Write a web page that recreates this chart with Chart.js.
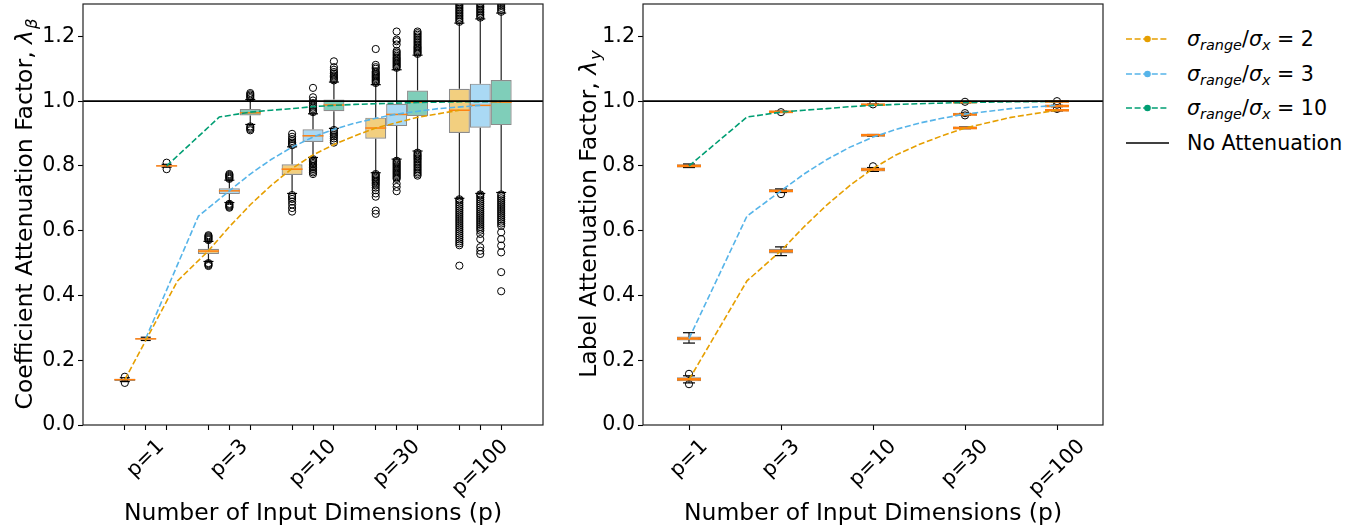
<!DOCTYPE html>
<html>
<head>
<meta charset="utf-8">
<title>Attenuation factors</title>
<script src="https://cdn.jsdelivr.net/npm/chart.js@4.4.1/dist/chart.umd.min.js"></script>
<style>
  html, body { margin: 0; padding: 0; background: #fff; }
  body { width: 1364px; height: 529px; position: relative; overflow: hidden; font-family: 'DejaVu Sans', sans-serif; }
  canvas { position: absolute; top: 0; }
  #coefCanvas { left: 0; }
  #labelCanvas { left: 560px; }
  #legend { position: absolute; left: 1126px; top: 22px; font-size: 20.6px; color: #000; }
  .row { height: 34.5px; display: flex; align-items: center; white-space: nowrap; }
  .row svg { margin-right: 18px; flex: none; }
  .row sub { font-size: 70%; vertical-align: -0.3em; line-height: 0; }
</style>
</head>
<body>
<canvas id="coefCanvas" width="560" height="529"></canvas>
<canvas id="labelCanvas" width="560" height="529"></canvas>
<div id="legend"></div>
<script>
// ---- data ----
const groupLabels = ['p=1', 'p=3', 'p=10', 'p=30', 'p=100'];
const seriesRatios = [2, 3, 10];
const seriesColors = ['#E69F00', '#56B4E9', '#009E73'];
const noAttenuation = 1.0;

// theory curves; x is on the group axis (1 = p=1, 2 = p=3, 3 = p=10, 4 = p=30, 5 = p=100)
const curveX   = [1, 1.63, 2, 2.25, 2.5, 2.75, 3, 3.25, 3.5, 3.75, 4, 4.5, 5];
const curveR2  = [0.140, 0.445, 0.538, 0.612, 0.680, 0.740, 0.792, 0.834, 0.866, 0.893, 0.917, 0.950, 0.972];
const curveR3  = [0.267, 0.645, 0.723, 0.775, 0.820, 0.858, 0.889, 0.913, 0.932, 0.947, 0.960, 0.977, 0.987];
const curveR10 = [0.800, 0.951, 0.966, 0.972, 0.977, 0.983, 0.987, 0.990, 0.992, 0.994, 0.996, 0.998, 0.999];

// boxes per p: [whisker low, q1, median, q3, whisker high]
const coefBoxR2 = [
  [0.134, 0.136, 0.140, 0.143, 0.146],
  [0.505, 0.528, 0.537, 0.544, 0.567],
  [0.715, 0.772, 0.790, 0.805, 0.859],
  [0.779, 0.884, 0.917, 0.949, 1.051],
  [0.700, 0.902, 0.972, 1.038, 1.241]
];
const coefBoxR3 = [
  [0.261, 0.264, 0.266, 0.268, 0.271],
  [0.687, 0.713, 0.723, 0.731, 0.756],
  [0.826, 0.874, 0.893, 0.913, 0.961],
  [0.821, 0.923, 0.959, 0.992, 1.097],
  [0.715, 0.918, 0.987, 1.054, 1.254]
];
const coefBoxR10 = [
  [0.796, 0.799, 0.800, 0.802, 0.805],
  [0.928, 0.956, 0.964, 0.976, 1.005],
  [0.916, 0.969, 0.988, 1.005, 1.059],
  [0.846, 0.954, 0.997, 1.033, 1.142],
  [0.718, 0.926, 0.997, 1.065, 1.272]
];

const coefOutR2 = [
  [0.130, 0.149],
  [0.491, 0.494, 0.497, 0.500, 0.571, 0.574, 0.577, 0.580, 0.583, 0.586],
  [0.659, 0.670, 0.681, 0.690, 0.698, 0.704, 0.710, 0.864, 0.868, 0.872, 0.877, 0.883, 0.890, 0.899],
  [0.652, 0.662, 0.705, 0.715, 0.725, 0.733, 0.740, 0.745, 0.750, 0.755, 0.759, 0.763, 0.767, 0.771, 0.775,
   1.056, 1.060, 1.064, 1.068, 1.072, 1.076, 1.080, 1.084, 1.088, 1.092, 1.100, 1.105, 1.112, 1.161],
  [0.492, 0.555, 0.561, 0.567, 0.573, 0.579, 0.585, 0.591, 0.597, 0.603, 0.609, 0.615, 0.621, 0.627, 0.633,
   0.639, 0.645, 0.651, 0.657, 0.663, 0.669, 0.675, 0.681, 0.687, 0.693, 0.697,
   1.245, 1.250, 1.255, 1.260, 1.265, 1.270, 1.275, 1.280, 1.285, 1.290, 1.295, 1.300, 1.305]
];
const coefOutR3 = [
  [],
  [0.671, 0.674, 0.677, 0.680, 0.683, 0.760, 0.763, 0.766, 0.769, 0.772, 0.775],
  [0.775, 0.780, 0.785, 0.790, 0.795, 0.800, 0.805, 0.809, 0.813, 0.817, 0.821,
   0.966, 0.970, 0.975, 0.980, 0.986, 0.994, 1.002, 1.012, 1.041],
  [0.722, 0.735, 0.745, 0.760, 0.764, 0.768, 0.772, 0.776, 0.780, 0.784, 0.788, 0.792, 0.796, 0.800, 0.804,
   0.808, 0.812, 0.816, 1.103, 1.107, 1.111, 1.115, 1.119, 1.123, 1.127, 1.131, 1.135, 1.140, 1.145, 1.150,
   1.155, 1.175, 1.185, 1.190, 1.215],
  [0.528, 0.538, 0.549, 0.574, 0.590, 0.600, 0.606, 0.612, 0.618, 0.624, 0.630, 0.636, 0.642, 0.648, 0.654,
   0.660, 0.666, 0.672, 0.678, 0.684, 0.690, 0.696, 0.702, 0.708, 0.712,
   1.258, 1.263, 1.268, 1.273, 1.278, 1.283, 1.288, 1.293, 1.298, 1.303]
];
const coefOutR10 = [
  [0.790, 0.810],
  [0.910, 0.914, 0.918, 0.922, 1.009, 1.013, 1.017, 1.021, 1.025],
  [0.872, 0.878, 0.885, 0.891, 0.896, 0.901, 0.906, 0.911,
   1.064, 1.068, 1.072, 1.076, 1.080, 1.085, 1.090, 1.097, 1.105, 1.123],
  [0.770, 0.775, 0.780, 0.785, 0.790, 0.795, 0.800, 0.805, 0.810, 0.815, 0.820, 0.824, 0.828, 0.832, 0.836,
   0.841, 1.146, 1.150, 1.154, 1.158, 1.162, 1.166, 1.170, 1.175, 1.180, 1.185, 1.190, 1.195, 1.200, 1.205,
   1.210, 1.215],
  [0.413, 0.472, 0.533, 0.554, 0.574, 0.595, 0.615, 0.622, 0.628, 0.634, 0.640, 0.646, 0.652, 0.658, 0.664,
   0.670, 0.676, 0.682, 0.688, 0.694, 0.700, 0.706, 0.712,
   1.276, 1.282, 1.288, 1.294, 1.300, 1.306]
];

const labelBoxR2 = [
  [0.130, 0.138, 0.141, 0.144, 0.152],
  [0.523, 0.533, 0.537, 0.541, 0.550],
  [0.783, 0.786, 0.789, 0.792, 0.795],
  [0.915, 0.916, 0.917, 0.919, 0.920],
  [0.970, 0.971, 0.972, 0.973, 0.974]
];
const labelBoxR3 = [
  [0.253, 0.264, 0.267, 0.270, 0.285],
  [0.718, 0.721, 0.723, 0.726, 0.729],
  [0.892, 0.893, 0.895, 0.896, 0.897],
  [0.957, 0.958, 0.959, 0.961, 0.962],
  [0.983, 0.984, 0.985, 0.986, 0.987]
];
const labelBoxR10 = [
  [0.795, 0.798, 0.800, 0.802, 0.806],
  [0.965, 0.966, 0.967, 0.968, 0.969],
  [0.987, 0.988, 0.989, 0.990, 0.991],
  [0.995, 0.996, 0.997, 0.998, 0.999],
  [0.998, 0.998, 0.999, 1.000, 1.000]
];
const labelOutR2  = [[0.126, 0.158], [], [0.799], [], [0.976]];
const labelOutR3  = [[], [0.713], [], [0.956, 0.963], [0.989]];
const labelOutR10 = [[], [0.966], [0.990], [0.998], [1.000]];

// ---- styling ----
Chart.defaults.font.family = "'DejaVu Sans', sans-serif";
Chart.defaults.color = '#000';
const TICK_FONT = 20.6;
const TITLE_FONT = 23.5;
const MEDIAN_COLOR = '#ff7f0e';

function boxSeries(boxes, outliers, color, shift, look) {
  const at = (i, v) => ({ x: i + 1 + shift, y: v });
  return [
    { // boxes q1..q3
      type: 'bar', order: 6, grouped: false,
      barThickness: look.boxW, inflateAmount: look.inflate,
      data: boxes.map((b, i) => at(i, [b[1], b[3]])),
      backgroundColor: color + '80', borderColor: 'rgba(0,0,0,0.45)',
      borderWidth: 1.2, borderSkipped: false
    },
    { // whiskers
      type: 'line', order: 5, spanGaps: false,
      data: boxes.flatMap((b, i) => [at(i, b[0]), at(i, b[1]), at(i, null), at(i, b[3]), at(i, b[4]), at(i, null)]),
      borderColor: '#222', borderWidth: 1.2, pointRadius: 0
    },
    { // caps
      type: 'scatter', order: 3,
      data: boxes.flatMap((b, i) => [at(i, b[0]), at(i, b[4])]),
      pointStyle: 'line', pointRadius: look.capW / 2,
      pointBorderColor: '#000', pointBorderWidth: 1.2
    },
    { // medians
      type: 'scatter', order: 2,
      data: boxes.map((b, i) => at(i, b[2])),
      pointStyle: 'line', pointRadius: look.boxW / 2 + look.inflate,
      pointBorderColor: MEDIAN_COLOR, pointBorderWidth: look.medW
    },
    { // fliers
      type: 'scatter', order: 4, clip: 0,
      data: outliers.flatMap((o, i) => o.map(v => at(i, v))),
      pointStyle: 'circle', pointRadius: 3.6,
      pointBackgroundColor: 'rgba(0,0,0,0)', pointBorderColor: '#000', pointBorderWidth: 1
    }
  ];
}

function curveSet(values, color, shift) {
  return {
    type: 'line', order: 1,
    data: curveX.map((x, i) => ({ x: x + shift, y: values[i] })),
    borderColor: color, borderWidth: 1.6, borderDash: [6, 2.6],
    pointRadius: 0, fill: false, tension: 0
  };
}

// reference line, frame, rotated tick labels and the y title with its subscript
function decor(cfg) {
  return {
    id: 'decor',
    afterDatasetsDraw(chart) {
      const { ctx, chartArea: a, scales: { y } } = chart;
      const yv = y.getPixelForValue(noAttenuation);
      ctx.save();
      ctx.strokeStyle = '#000';
      ctx.lineWidth = 1.6;
      ctx.beginPath();
      ctx.moveTo(a.left, yv);
      ctx.lineTo(a.right, yv);
      ctx.stroke();
      ctx.restore();
    },
    afterDraw(chart) {
      const { ctx, chartArea: a, scales: { x } } = chart;
      ctx.save();
      ctx.strokeStyle = '#222';
      ctx.lineWidth = 1.2;
      ctx.strokeRect(a.left, a.top, a.right - a.left, a.bottom - a.top);

      ctx.fillStyle = '#000';
      ctx.font = TICK_FONT + "px 'DejaVu Sans'";
      ctx.textAlign = 'center';
      ctx.textBaseline = 'middle';
      groupLabels.forEach((t, i) => {
        const px = x.getPixelForValue(i + 1 + cfg.labelShift);
        const w = ctx.measureText(t).width;
        const cy = a.bottom + 10 + (w + 24) * Math.SQRT1_2 / 2;
        ctx.save();
        ctx.translate(px, cy);
        ctx.rotate(-Math.PI / 4);
        ctx.fillText(t, 0, 0);
        ctx.restore();
      });

      const fMain = TITLE_FONT + "px 'DejaVu Sans'";
      const fIt = 'italic ' + TITLE_FONT + "px 'DejaVu Sans'";
      const fSub = 'italic ' + (TITLE_FONT * 0.7) + "px 'DejaVu Sans'";
      ctx.textAlign = 'left';
      ctx.textBaseline = 'alphabetic';
      ctx.font = fMain; const w1 = ctx.measureText(cfg.yTitle).width;
      ctx.font = fIt;   const w2 = ctx.measureText('λ').width;
      ctx.font = fSub;  const w3 = ctx.measureText(cfg.ySub).width;
      const x0 = -(w1 + w2 + w3) / 2;
      ctx.translate(cfg.titleX, (a.top + a.bottom) / 2);
      ctx.rotate(-Math.PI / 2);
      ctx.font = fMain; ctx.fillText(cfg.yTitle, x0, 0);
      ctx.font = fIt;   ctx.fillText('λ', x0 + w1, 0);
      ctx.font = fSub;  ctx.fillText(cfg.ySub, x0 + w1 + w2 + 1, 5);
      ctx.restore();
    }
  };
}

function makePanel(canvasId, cfg) {
  return new Chart(document.getElementById(canvasId), {
    type: 'scatter',
    data: { datasets: cfg.datasets },
    options: {
      responsive: false,
      devicePixelRatio: 1,
      animation: false,
      events: [],
      layout: { autoPadding: false, padding: { left: 0, right: 17, top: 4, bottom: 0 } },
      plugins: { legend: { display: false }, tooltip: { enabled: false } },
      scales: {
        x: {
          type: 'linear', min: cfg.xMin, max: cfg.xMax, offset: false,
          afterBuildTicks: s => { s.ticks = cfg.tickPos.map(v => ({ value: v })); },
          afterFit: s => { s.height = 104; s.paddingLeft = 0; s.paddingRight = 0; },
          ticks: { display: false },
          grid: { display: true, offset: false, drawOnChartArea: false, drawTicks: true, tickLength: 5, tickColor: '#000', tickWidth: 1.1 },
          border: { display: false },
          title: {
            display: true, text: 'Number of Input Dimensions (p)',
            font: { size: TITLE_FONT }, color: '#000', padding: { top: 0, bottom: 1 }
          }
        },
        y: {
          type: 'linear', min: 0, max: 1.3,
          afterFit: s => { s.width = 83; s.paddingTop = 0; s.paddingBottom = 0; },
          ticks: {
            stepSize: 0.2, includeBounds: false, padding: 3,
            callback: v => v.toFixed(1), font: { size: TICK_FONT, lineHeight: 0.05 }, color: '#000'
          },
          grid: { display: true, drawOnChartArea: false, tickLength: 5, tickColor: '#000', tickWidth: 1.1 },
          border: { display: false }
        }
      }
    },
    plugins: [decor(cfg)]
  });
}

// left panel: three boxes per p, 0.25 group units apart
const coefLook = { boxW: 21, inflate: 0, capW: 10, medW: 1.5 };
makePanel('coefCanvas', {
  xMin: 0.5, xMax: 6,
  tickPos: groupLabels.flatMap((l, i) => [0, 0.25, 0.5].map(d => i + 1 + d)),
  labelShift: 0.25,
  yTitle: 'Coefficient Attenuation Factor, ', ySub: 'β', titleX: 32,
  datasets: [
    curveSet(curveR2, seriesColors[0], 0),
    curveSet(curveR3, seriesColors[1], 0.25),
    curveSet(curveR10, seriesColors[2], 0.5),
    ...boxSeries(coefBoxR2, coefOutR2, seriesColors[0], 0, coefLook),
    ...boxSeries(coefBoxR3, coefOutR3, seriesColors[1], 0.25, coefLook),
    ...boxSeries(coefBoxR10, coefOutR10, seriesColors[2], 0.5, coefLook)
  ]
});

// right panel: boxes for all ratios share one position per p
const labelLook = { boxW: 22, inflate: 1, capW: 12, medW: 2.5 };
makePanel('labelCanvas', {
  xMin: 0.5, xMax: 5.5,
  tickPos: groupLabels.map((l, i) => i + 1),
  labelShift: 0,
  yTitle: 'Label Attenuation Factor, ', ySub: 'y', titleX: 36,
  datasets: [
    curveSet(curveR2, seriesColors[0], 0),
    curveSet(curveR3, seriesColors[1], 0),
    curveSet(curveR10, seriesColors[2], 0),
    ...boxSeries(labelBoxR2, labelOutR2, seriesColors[0], 0, labelLook),
    ...boxSeries(labelBoxR3, labelOutR3, seriesColors[1], 0, labelLook),
    ...boxSeries(labelBoxR10, labelOutR10, seriesColors[2], 0, labelLook)
  ]
});

// legend (html so the subscripts stay real text)
const legendRows = seriesRatios.map((r, s) => ({
  color: seriesColors[s], dashed: true,
  html: '<i>σ</i><sub><i>range</i></sub>/<i>σ</i><sub><i>x</i></sub> = ' + r
}));
legendRows.push({ color: '#000', dashed: false, html: 'No Attenuation' });
document.getElementById('legend').innerHTML = legendRows.map(row =>
  '<div class="row"><svg width="43" height="12">' +
  '<line x1="0" y1="6" x2="43" y2="6" stroke="' + row.color + '" stroke-width="1.6"' +
  (row.dashed ? ' stroke-dasharray="6 2.6"' : '') + '/>' +
  (row.dashed ? '<circle cx="21.5" cy="6" r="3.3" fill="' + row.color + '"/>' : '') +
  '</svg><span>' + row.html + '</span></div>'
).join('');
</script>
</body>
</html>
